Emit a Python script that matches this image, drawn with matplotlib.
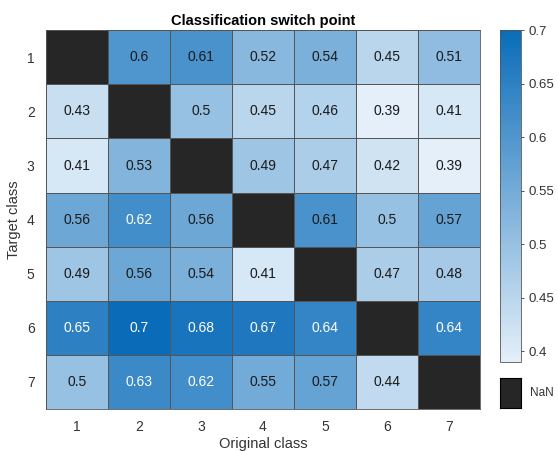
import numpy as np
import matplotlib
matplotlib.use('Agg')
import matplotlib.pyplot as plt
from matplotlib.colors import LinearSegmentedColormap

plt.rcParams['font.family'] = ['Liberation Sans', 'DejaVu Sans']

classes = ['1', '2', '3', '4', '5', '6', '7']
nan = np.nan
row1 = [nan, 0.60, 0.61, 0.52, 0.54, 0.45, 0.51]
row2 = [0.43, nan, 0.50, 0.45, 0.46, 0.39, 0.41]
row3 = [0.41, 0.53, nan, 0.49, 0.47, 0.42, 0.39]
row4 = [0.56, 0.62, 0.56, nan, 0.61, 0.50, 0.57]
row5 = [0.49, 0.56, 0.54, 0.41, nan, 0.47, 0.48]
row6 = [0.65, 0.70, 0.68, 0.67, 0.64, nan, 0.64]
row7 = [0.50, 0.63, 0.62, 0.55, 0.57, 0.44, nan]
vals = np.array([row1, row2, row3, row4, row5, row6, row7])

cmap = LinearSegmentedColormap.from_list('mblue', ['#e4eff9', '#0a6cb9'])
cmap.set_bad('#262626')
vmin, vmax = 0.39, 0.70

fig = plt.figure(figsize=(5.58, 4.51), dpi=100)
ax = fig.add_axes([0.082, 0.093, 0.778, 0.840])
im = ax.pcolormesh(np.ma.masked_invalid(vals), cmap=cmap, vmin=vmin, vmax=vmax,
                   edgecolor='#555555', linewidth=0.6)
ax.set_xlim(0, 7)
ax.set_ylim(7, 0)
ax.set_xticks(np.arange(7) + 0.5)
ax.set_xticklabels(classes)
ax.set_yticks(np.arange(7) + 0.5)
ax.set_yticklabels(classes)
ax.tick_params(length=0, labelsize=10, colors='#333333', pad=8)
for s in ax.spines.values():
    s.set_color('#555555')
    s.set_linewidth(0.6)

for i in range(7):
    for j in range(7):
        v = vals[i, j]
        if np.isnan(v):
            continue
        c = 'white' if v > 0.615 else '#1a1a1a'
        ax.text(j + 0.5, i + 0.5, f'{v:g}', ha='center', va='center',
                fontsize=10, color=c)

ax.set_title('Classification switch point', fontsize=10.5, fontweight='bold', pad=4)
ax.set_xlabel('Original class', fontsize=10.5, color='#333333', labelpad=2)
ax.set_ylabel('Target class', fontsize=10.5, color='#333333', labelpad=4)

cax = fig.add_axes([0.896, 0.197, 0.038, 0.736])
cb = fig.colorbar(im, cax=cax)
cb.set_ticks([0.4, 0.45, 0.5, 0.55, 0.6, 0.65, 0.7])
cb.set_ticklabels(['0.4', '0.45', '0.5', '0.55', '0.6', '0.65', '0.7'])
cax.tick_params(labelsize=9.5, colors='#333333', length=2, width=0.6)
cb.outline.set_edgecolor('#555555')
cb.outline.set_linewidth(0.6)

nax = fig.add_axes([0.896, 0.095, 0.038, 0.067])
nax.set_facecolor('#262626')
nax.set_xticks([])
nax.set_yticks([])
nax.text(1.4, 0.5, 'NaN', transform=nax.transAxes, ha='left', va='center',
         fontsize=8.5, color='#333333')

fig.savefig('out.png', dpi=100)
